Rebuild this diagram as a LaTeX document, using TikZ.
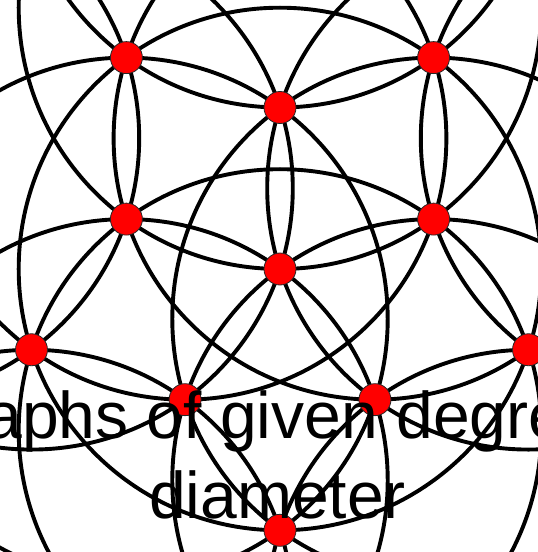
\documentclass[tikz,border=0pt]{standalone}
\usepackage{fontspec}
\setmainfont{Liberation Sans}
\begin{document}
\begin{tikzpicture}[x=1pt,y=1pt,
  arcline/.style={draw=black,line width=3.9pt},
  vtx/.style={circle,fill=red,draw=black!85,line width=0.8pt,minimum size=32pt,inner sep=0pt},
  caption/.style={anchor=base west,inner sep=0pt,font=\fontsize{66}{76}\selectfont}]
\pgfmathsetmacro{\ra}{161.5}
\pgfmathsetmacro{\RR}{261.3}
\pgfmathsetmacro{\RRR}{422.8}
\useasboundingbox (-280,-283) rectangle (258,269);
\fill[white] (-280,-283) rectangle (258,269);
\begin{scope}
\clip (-280,-283) rectangle (258,269);
% circle through the outer ring
\coordinate (c0) at (0,0);
\draw[arcline] (c0) circle[radius=\RR];
\foreach \k in {0,...,4}{
  \coordinate (ca\k) at ({54+72*\k}:\ra);
  \coordinate (cb\k) at ({18+72*\k}:\RR);
  \coordinate (cc\k) at ({18+72*\k}:\RRR);
  \draw[arcline] (ca\k) circle[radius=\RR];
  \draw[arcline] (cb\k) circle[radius=\RR];
  \draw[arcline] (cc\k) circle[radius=\RR];
}
% vertices
\node[vtx] (F) at (0,0) {};
\foreach \k/\n in {0/E,1/C,2/D,3/I,4/J}{
  \node[vtx] (\n) at ({18+72*\k}:\ra) {};
}
\foreach \k/\n in {0/B,1/A,2/G,3/K,4/H}{
  \node[vtx] (\n) at ({54+72*\k}:\RR) {};
}
% caption
\node[caption] (t1) at (-368,-169) {Graphs of given degree and};
\node[caption] (t2) at (-131,-249) {diameter};
\end{scope}
\end{tikzpicture}
\end{document}
